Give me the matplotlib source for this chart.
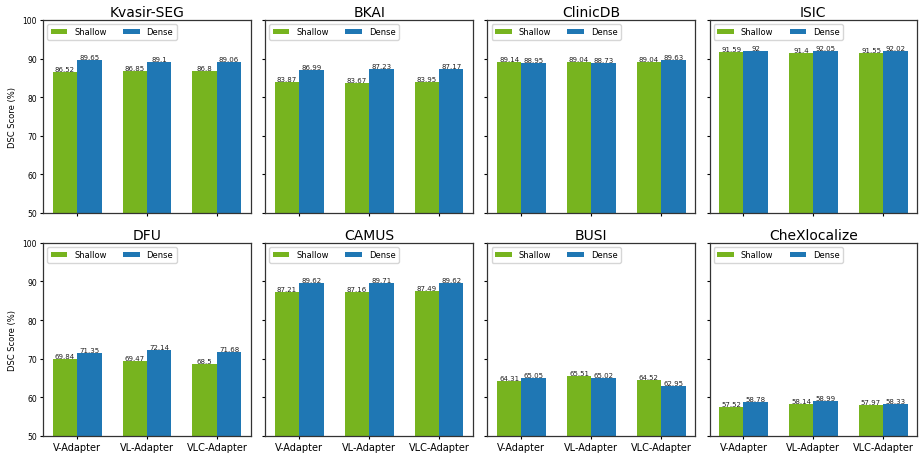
import numpy as np
import matplotlib
matplotlib.use('Agg')
import matplotlib.pyplot as plt

# DSC scores per dataset: shallow vs dense decoder, for each adapter type
datasets = ['Kvasir-SEG', 'BKAI', 'ClinicDB', 'ISIC',
            'DFU', 'CAMUS', 'BUSI', 'CheXlocalize']
adapters = ['V-Adapter', 'VL-Adapter', 'VLC-Adapter']

shallow = [
    [86.52, 86.85, 86.8],
    [83.87, 83.67, 83.95],
    [89.14, 89.04, 89.04],
    [91.59, 91.4, 91.55],
    [69.84, 69.47, 68.5],
    [87.21, 87.16, 87.49],
    [64.31, 65.51, 64.52],
    [57.52, 58.14, 57.97],
]
dense = [
    [89.65, 89.1, 89.06],
    [86.99, 87.23, 87.17],
    [88.95, 88.73, 89.63],
    [92, 92.05, 92.02],
    [71.35, 72.14, 71.68],
    [89.62, 89.71, 89.62],
    [65.05, 65.02, 62.95],
    [58.78, 58.99, 58.33],
]

green = '#77b41f'
blue = '#1f77b4'
width = 0.35
x = np.arange(len(adapters))

fig, axes = plt.subplots(2, 4, figsize=(9.19, 4.56), dpi=100, sharex=True, sharey=True)
plt.subplots_adjust(left=0.047, right=0.998, top=0.954, bottom=0.042,
                    wspace=0.07, hspace=0.155)

def fmt(v):
    return ('%g' % v)

for i, ax in enumerate(axes.flat):
    b1 = ax.bar(x - width/2, shallow[i], width, color=green, label='Shallow')
    b2 = ax.bar(x + width/2, dense[i], width, color=blue, label='Dense')
    for bars, vals in ((b1, shallow[i]), (b2, dense[i])):
        for rect, v in zip(bars, vals):
            ax.text(rect.get_x() + rect.get_width()/2, v, fmt(v),
                    ha='center', va='bottom', fontsize=5, color='#222222')
    ax.set_title(datasets[i], fontsize=10, pad=3)
    ax.set_ylim(50, 100)
    ax.set_xticks(x)
    ax.set_xticklabels(adapters)
    ax.tick_params(axis='x', labelsize=7, length=2.5, width=0.8, pad=2)
    ax.tick_params(axis='y', labelsize=5.5, length=2.5, width=0.8, pad=2)
    for s in ax.spines.values():
        s.set_linewidth(0.9)
        s.set_color('#333333')
    ax.legend(loc='upper left', ncol=2, fontsize=6, fancybox=True, framealpha=0.8)
    if i % 4 == 0:
        ax.set_ylabel('DSC Score (%)', fontsize=6)

plt.savefig('out.png', dpi=100)
